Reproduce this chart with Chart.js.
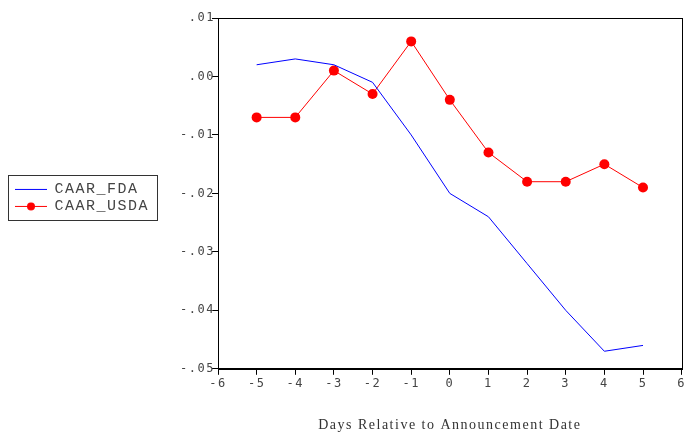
<!DOCTYPE html>
<html lang="en">
<head>
<meta charset="UTF-8">
<title>CAAR</title>
<script src="https://cdn.jsdelivr.net/npm/chart.js"></script>
<style>
  html, body { margin: 0; padding: 0; background: #fff; }
  #box { width: 688px; height: 434px; }
</style>
</head>
<body>
<div id="box"><canvas id="myChart"></canvas></div>
<script>
// days relative to announcement
const days = [-5, -4, -3, -2, -1, 0, 1, 2, 3, 4, 5];
const caarFDA = [0.002, 0.003, 0.002, -0.001, -0.010, -0.020, -0.024, -0.032, -0.040, -0.047, -0.046];
const caarUSDA = [-0.007, -0.007, 0.001, -0.003, 0.006, -0.004, -0.013, -0.018, -0.018, -0.015, -0.019];
const yTicks = [0.01, 0.00, -0.01, -0.02, -0.03, -0.04, -0.05];
const xTicks = [-6, -5, -4, -3, -2, -1, 0, 1, 2, 3, 4, 5, 6];

const padLeft = 6;

function toPts(vals) {
    return days.map((d, i) => ({ x: d, y: vals[i] }));
}

// little legend swatches: line, and line with a dot
function swatch(color, dot) {
    const c = document.createElement('canvas');
    c.width = 32; c.height = 12;
    const g = c.getContext('2d');
    g.strokeStyle = color;
    g.lineWidth = 1;
    g.beginPath(); g.moveTo(0, 6.5); g.lineTo(32, 6.5); g.stroke();
    if (dot) {
        g.fillStyle = color;
        g.beginPath(); g.arc(16, 6.5, 4, 0, Math.PI * 2); g.fill();
    }
    return c;
}

function fmt(v) {
    let s = (Math.round(v * 100) / 100).toFixed(2);
    s = s.replace('0.', '.');
    if (s === '-.00') s = '.00';
    return s;
}

// the old plot had loose letter spacing everywhere
const spacing = {
    id: 'spacing',
    beforeUpdate(chart) { chart.ctx.letterSpacing = '1.5px'; },
    beforeDraw(chart) { chart.ctx.letterSpacing = '1.5px'; }
};

const frame = {
    id: 'frame',
    afterLayout(chart) {
        const lg = chart.legend;
        lg.left += 7; lg.right += 7;
        lg.top += 4; lg.bottom += 4;
    },
    afterDraw(chart) {
        const { ctx, chartArea: a } = chart;
        ctx.save();
        ctx.strokeStyle = '#000';
        ctx.lineWidth = 1;
        ctx.strokeRect(Math.round(a.left) + 0.5, Math.round(a.top) + 0.5,
            Math.round(a.right - a.left), Math.round(a.bottom - a.top));
        // legend border
        const hb = chart.legend.legendHitBoxes;
        if (hb && hb.length) {
            const l = Math.min(...hb.map(h => h.left)) - 7;
            const t = Math.min(...hb.map(h => h.top)) - 6;
            const r = Math.max(...hb.map(h => h.left + h.width)) + 8;
            const b = Math.max(...hb.map(h => h.top + h.height)) + 7;
            ctx.strokeStyle = '#333';
            ctx.strokeRect(Math.round(l) + 0.5, Math.round(t) + 0.5, Math.round(r - l), Math.round(b - t));
        }
        ctx.restore();
    }
};

new Chart(document.getElementById('myChart'), {
    type: 'line',
    data: {
        datasets: [{
            label: 'CAAR_FDA',
            data: toPts(caarFDA),
            borderColor: '#0000ff',
            backgroundColor: '#0000ff',
            borderWidth: 1,
            pointRadius: 0,
            tension: 0
        }, {
            label: 'CAAR_USDA',
            data: toPts(caarUSDA),
            borderColor: '#ff0000',
            backgroundColor: '#ff0000',
            borderWidth: 1,
            pointRadius: 5,
            pointHoverRadius: 5,
            pointBorderWidth: 0,
            pointStyle: 'circle',
            tension: 0
        }]
    },
    options: {
        responsive: true,
        maintainAspectRatio: false,
        animation: false,
        layout: { padding: { left: padLeft, right: 1, top: 18, bottom: 0 } },
        plugins: {
            tooltip: { enabled: false },
            legend: {
                position: 'left',
                fullSize: false,
                labels: {
                    usePointStyle: true,
                    pointStyleWidth: 32,
                    boxHeight: 12,
                    padding: 2,
                    color: '#444',
                    font: { family: 'Liberation Mono', size: 15 },
                    generateLabels(chart) {
                        return chart.data.datasets.map((ds, i) => ({
                            text: ds.label,
                            pointStyle: swatch(ds.borderColor, i === 1),
                            fontColor: '#444',
                            lineWidth: 0,
                            datasetIndex: i
                        }));
                    }
                }
            }
        },
        scales: {
            x: {
                type: 'linear',
                min: -6, max: 6,
                afterBuildTicks(s) { s.ticks = xTicks.map(v => ({ value: v })); },
                grid: { drawOnChartArea: false, drawTicks: true, tickLength: 6, color: '#000' },
                border: { display: true, color: '#000' },
                ticks: {
                    color: '#444',
                    padding: 2,
                    maxRotation: 0,
                    font: { family: 'DejaVu Sans Mono', size: 12 },
                    callback: v => String(v)
                },
                title: {
                    display: true,
                    text: 'Days Relative to Announcement Date',
                    color: '#333',
                    font: { family: 'Liberation Serif', size: 14 },
                    padding: { top: 24, bottom: 0 }
                }
            },
            y: {
                min: -0.05, max: 0.01,
                afterBuildTicks(s) { s.ticks = yTicks.map(v => ({ value: v })); },
                afterFit(s) { s.width = 218 - padLeft - (s.chart.legend ? s.chart.legend.width : 0); },
                grid: { drawOnChartArea: false, drawTicks: true, tickLength: 6, color: '#000' },
                border: { display: true, color: '#000' },
                ticks: {
                    color: '#444',
                    padding: -3,
                    font: { family: 'DejaVu Sans Mono', size: 12 },
                    callback: v => fmt(v)
                }
            }
        }
    },
    plugins: [spacing, frame]
});
</script>
</body>
</html>
